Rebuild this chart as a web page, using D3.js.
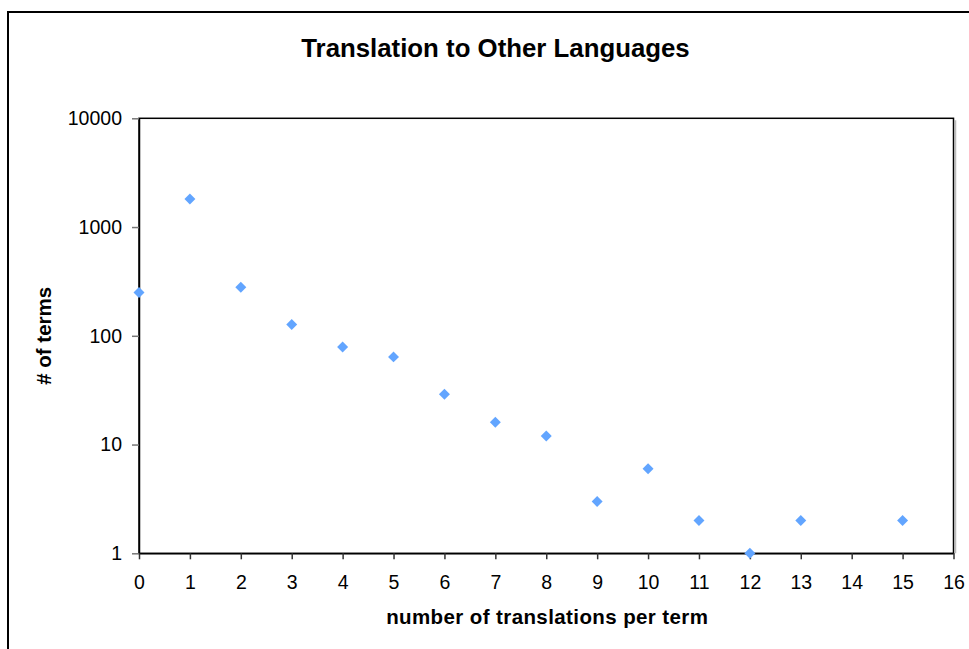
<!DOCTYPE html>
<html>
<head>
<meta charset="utf-8">
<script src="https://cdn.jsdelivr.net/npm/d3@7"></script>
<style>
  html, body { margin: 0; padding: 0; background: #fff; }
  svg { display: block; font-family: "Liberation Sans", Arial, sans-serif; }
</style>
</head>
<body>
<svg id="chart" width="969" height="649"></svg>
<script>
// Number of translations available per term, and how many terms have that count
const translations = [0, 1, 2, 3, 4, 5, 6, 7, 8, 9, 10, 11, 12, 13, 15];
const termCounts   = [250, 1810, 280, 127, 79, 64, 29, 16, 12, 3, 6, 2, 1, 2, 2];
const xTickValues  = [0, 1, 2, 3, 4, 5, 6, 7, 8, 9, 10, 11, 12, 13, 14, 15, 16];
const yTickValues  = [1, 10, 100, 1000, 10000];

const title  = "Translation to Other Languages";
const xTitle = "number of translations per term";
const yTitle = "# of terms";

const svg = d3.select("#chart");
const plot = { left: 139, right: 953.5, top: 118.3, bottom: 553.3 };

const x = d3.scaleLinear().domain([0, 16]).range([plot.left, plot.right]);
const y = d3.scaleLog().domain([1, 10000]).range([plot.bottom, plot.top]);

// Chart-area frame (runs off the right and bottom edges)
svg.append("rect")
  .attr("x", 8).attr("y", 12)
  .attr("width", 1000).attr("height", 700)
  .attr("fill", "none").attr("stroke", "#000").attr("stroke-width", 2);

// Plot-area frame with a faint shadow on the right
svg.append("line")
  .attr("x1", plot.right + 2).attr("x2", plot.right + 2)
  .attr("y1", plot.top + 2).attr("y2", plot.bottom)
  .attr("stroke", "#bbb").attr("stroke-width", 1.5);
svg.append("rect")
  .attr("x", plot.left).attr("y", plot.top)
  .attr("width", plot.right - plot.left).attr("height", plot.bottom - plot.top)
  .attr("fill", "none").attr("stroke", "#000").attr("stroke-width", 1.5);

// Y axis (log scale)
const yAxis = svg.append("g")
  .attr("transform", `translate(${plot.left},0)`)
  .call(d3.axisLeft(y).tickValues(yTickValues).tickFormat(d3.format("d"))
    .tickSize(7).tickPadding(10).tickSizeOuter(0));
yAxis.select(".domain").attr("stroke", "#000").attr("stroke-width", 1.5);
yAxis.selectAll(".tick line").attr("stroke", "#777").attr("stroke-width", 1.5);
yAxis.selectAll(".tick text")
  .attr("fill", "#000").style("font-size", "19.5px")
  .attr("font-family", "Liberation Sans, Arial, sans-serif");

// X axis
const xAxis = svg.append("g")
  .attr("transform", `translate(0,${plot.bottom})`)
  .call(d3.axisBottom(x).tickValues(xTickValues).tickFormat(d3.format("d"))
    .tickSize(6).tickPadding(16).tickSizeOuter(0));
xAxis.select(".domain").attr("stroke", "#000").attr("stroke-width", 1.5);
xAxis.selectAll(".tick line").attr("stroke", "#333").attr("stroke-width", 1.5);
xAxis.selectAll(".tick text")
  .attr("fill", "#000").style("font-size", "19.5px")
  .attr("font-family", "Liberation Sans, Arial, sans-serif");

// Diamond markers
const diamond = d3.symbol().type(d3.symbolSquare).size(60);
svg.append("g").selectAll("path")
  .data(translations.map((t, i) => ({ t, n: termCounts[i] })))
  .join("path")
  .attr("d", diamond)
  .attr("transform", d => `translate(${x(d.t)},${y(d.n)}) rotate(45)`)
  .attr("fill", "#62a5ff");

// Titles
svg.append("text")
  .attr("x", 495.5).attr("y", 56.5)
  .attr("text-anchor", "middle")
  .style("font-size", "25.8px").style("font-weight", "bold")
  .text(title);

svg.append("text")
  .attr("x", (plot.left + plot.right) / 2 + 1).attr("y", 623.5)
  .attr("text-anchor", "middle")
  .style("font-size", "20.5px").style("font-weight", "bold")
  .style("letter-spacing", "0.4px")
  .text(xTitle);

svg.append("text")
  .attr("transform", `translate(50.5,${(plot.top + plot.bottom) / 2}) rotate(-90)`)
  .attr("text-anchor", "middle")
  .style("font-size", "20.5px").style("font-weight", "bold")
  .text(yTitle);
</script>
</body>
</html>
